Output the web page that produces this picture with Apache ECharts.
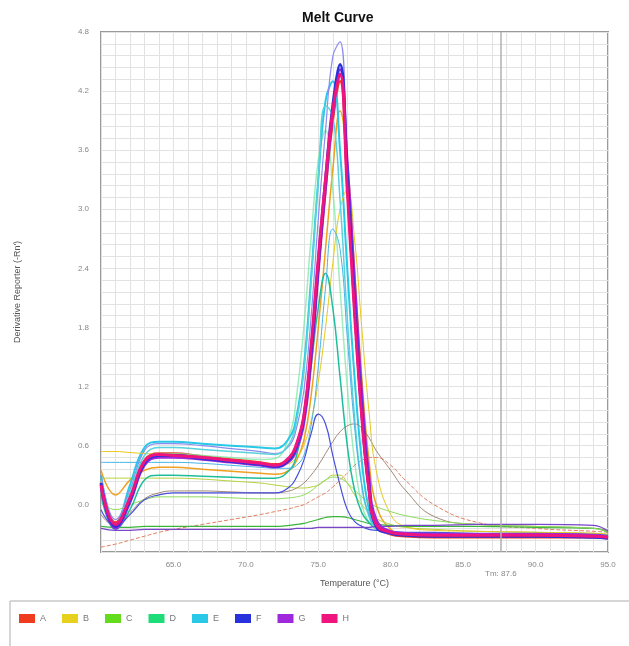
<!DOCTYPE html>
<html>
<head>
<meta charset="utf-8">
<script src="https://cdn.jsdelivr.net/npm/echarts@6/dist/echarts.min.js"></script>
<style>
  html, body { margin: 0; padding: 0; background: #fff; }
  #chart { width: 629px; height: 646px; }
</style>
</head>
<body>
<div id="chart"></div>
<script>
// temperature points (°C) shared by all wells
var temps = [60, 61, 62, 63, 64, 65, 67, 69, 71, 72, 73, 73.5, 74, 74.5, 75, 75.5, 76, 76.5, 77, 77.5, 78, 78.5, 79, 80, 81, 83, 86, 90, 94, 95];

// derivative reporter values per well
var wellH1 = [0.20,-0.20,0.07,0.44,0.51,0.50,0.48,0.45,0.42,0.40,0.48,0.62,0.90,1.60,2.50,3.30,4.00,4.37,3.20,1.95,0.90,0.15,-0.20,-0.28,-0.30,-0.31,-0.31,-0.31,-0.32,-0.33];
var wellF1 = [0.22,-0.22,0.05,0.42,0.50,0.50,0.47,0.44,0.41,0.39,0.46,0.60,0.88,1.55,2.45,3.30,4.05,4.47,3.35,2.05,0.95,0.18,-0.22,-0.29,-0.31,-0.32,-0.32,-0.32,-0.33,-0.34];
var wellG1 = [0.18,-0.24,0.02,0.40,0.48,0.48,0.46,0.43,0.40,0.38,0.44,0.56,0.82,1.45,2.35,3.20,3.95,4.42,3.50,2.30,1.15,0.30,-0.15,-0.27,-0.29,-0.30,-0.30,-0.30,-0.31,-0.33];
var wellA1 = [0.24,-0.18,0.08,0.45,0.52,0.52,0.49,0.46,0.43,0.41,0.47,0.60,0.86,1.50,2.40,3.20,3.90,4.30,3.25,2.00,0.92,0.16,-0.20,-0.30,-0.32,-0.33,-0.33,-0.33,-0.33,-0.34];
var wellF2 = [0.30,-0.15,0.15,0.55,0.62,0.62,0.60,0.57,0.54,0.52,0.60,0.78,1.15,1.90,2.90,3.80,4.55,4.70,3.40,2.00,0.85,0.10,-0.22,-0.30,-0.31,-0.32,-0.32,-0.32,-0.33,-0.34];
var wellE1 = [0.30,-0.20,0.20,0.58,0.64,0.64,0.62,0.60,0.58,0.57,0.68,0.90,1.40,2.30,3.30,4.10,4.30,3.60,2.40,1.30,0.45,-0.05,-0.22,-0.28,-0.30,-0.31,-0.31,-0.31,-0.32,-0.33];
var wellE2 = [0.25,-0.22,0.12,0.50,0.58,0.58,0.56,0.54,0.52,0.51,0.62,0.85,1.35,2.25,3.30,4.05,3.95,3.10,1.90,0.90,0.20,-0.12,-0.24,-0.29,-0.30,-0.31,-0.31,-0.31,-0.32,-0.33];
var wellD1 = [0.25,-0.20,0.10,0.45,0.52,0.52,0.50,0.48,0.46,0.47,0.70,1.10,1.80,2.70,3.50,3.80,3.20,2.20,1.20,0.45,0.00,-0.18,-0.25,-0.29,-0.30,-0.31,-0.31,-0.31,-0.32,-0.33];
var wellD2 = [0.10,-0.25,-0.05,0.25,0.30,0.30,0.29,0.28,0.27,0.27,0.35,0.50,0.85,1.40,2.00,2.35,2.00,1.30,0.60,0.15,-0.08,-0.18,-0.24,-0.27,-0.29,-0.30,-0.30,-0.30,-0.31,-0.32];
var wellF3 = [-0.05,-0.22,-0.10,0.05,0.10,0.12,0.12,0.12,0.12,0.12,0.18,0.28,0.45,0.72,0.92,0.82,0.50,0.20,-0.05,-0.17,-0.22,-0.25,-0.26,-0.27,-0.28,-0.28,-0.29,-0.29,-0.30,-0.31];
var wellB1 = [0.35,0.10,0.25,0.35,0.38,0.38,0.36,0.34,0.32,0.31,0.35,0.45,0.65,1.10,1.80,2.60,3.40,4.00,3.50,2.40,1.30,0.45,0.00,-0.25,-0.29,-0.30,-0.30,-0.30,-0.31,-0.32];
var wellB2 = [0.54,0.54,0.53,0.52,0.51,0.50,0.48,0.45,0.42,0.40,0.42,0.48,0.60,0.85,1.25,1.80,2.45,3.00,3.20,2.70,1.80,0.95,0.35,-0.10,-0.22,-0.26,-0.27,-0.28,-0.29,-0.30];
var wellC1 = [0.27,0.27,0.27,0.27,0.27,0.27,0.26,0.24,0.22,0.20,0.18,0.17,0.17,0.18,0.20,0.25,0.30,0.30,0.22,0.10,0.00,-0.08,-0.14,-0.20,-0.23,-0.25,-0.27,-0.28,-0.29,-0.30];
var wellE3 = [0.43,0.43,0.43,0.43,0.43,0.43,0.42,0.40,0.38,0.37,0.37,0.40,0.50,0.80,1.40,2.20,2.80,2.60,1.70,0.80,0.20,-0.10,-0.22,-0.27,-0.29,-0.30,-0.30,-0.31,-0.32,-0.33];
var wellG2 = [-0.10,-0.22,-0.08,0.06,0.12,0.14,0.14,0.13,0.12,0.12,0.14,0.17,0.22,0.30,0.40,0.52,0.64,0.74,0.80,0.82,0.78,0.68,0.55,0.35,0.15,-0.12,-0.20,-0.22,-0.24,-0.26];
var wellA2 = [-0.43,-0.40,-0.36,-0.32,-0.28,-0.25,-0.20,-0.15,-0.10,-0.07,-0.04,-0.02,0.00,0.04,0.08,0.12,0.18,0.25,0.32,0.40,0.45,0.48,0.48,0.40,0.25,0.00,-0.18,-0.24,-0.27,-0.28];
var wellC2 = [-0.22,-0.23,-0.23,-0.22,-0.22,-0.22,-0.22,-0.22,-0.22,-0.22,-0.21,-0.20,-0.19,-0.17,-0.15,-0.13,-0.12,-0.12,-0.13,-0.15,-0.17,-0.19,-0.20,-0.21,-0.22,-0.22,-0.22,-0.23,-0.24,-0.28];
var wellG3 = [-0.24,-0.26,-0.26,-0.25,-0.25,-0.25,-0.25,-0.25,-0.25,-0.25,-0.25,-0.24,-0.24,-0.24,-0.23,-0.23,-0.23,-0.23,-0.23,-0.23,-0.23,-0.23,-0.22,-0.22,-0.21,-0.21,-0.20,-0.20,-0.21,-0.27];
var wellC3 = [0.02,-0.05,0.00,0.05,0.08,0.08,0.08,0.07,0.06,0.06,0.07,0.08,0.10,0.14,0.20,0.25,0.28,0.27,0.22,0.15,0.08,0.02,-0.02,-0.07,-0.11,-0.16,-0.20,-0.22,-0.24,-0.28];

var groups = ['A', 'B', 'C', 'D', 'E', 'F', 'G', 'H'];
var groupColors = ['#f03c1e', '#e6d21e', '#64dc1e', '#1edc78', '#28c8e6', '#2832dc', '#a028dc', '#f0147f'];

var tmValue = 87.6;

// [group, data, colour, width, opacity, dashed]
var wells = [
    ['A', wellA1, '#f03c1e', 2.5, 1, false],
    ['B', wellB1, '#f0a020', 1.5, 1, false],
    ['C', wellC1, '#b4d23c', 1, 1, false],
    ['D', wellD1, '#78e6a0', 1.5, 0.7, false],
    ['E', wellE1, '#28c8e6', 2, 1, false],
    ['F', wellF2, '#8c8cf0', 1.2, 1, false],
    ['G', wellG2, '#a08878', 1, 1, false],
    ['A', wellA2, '#e08060', 1, 1, true],
    ['B', wellB2, '#e6c81e', 1, 1, false],
    ['C', wellC2, '#3cb43c', 1.2, 1, false],
    ['C', wellC3, '#8cdc5a', 1, 1, false],
    ['D', wellD2, '#1ebe9a', 1.5, 1, false],
    ['E', wellE2, '#5ad2dc', 1.5, 1, false],
    ['E', wellE3, '#46b4e6', 1, 1, false],
    ['F', wellF3, '#4650dc', 1.2, 1, false],
    ['G', wellG3, '#7846c8', 1.2, 1, false],
    ['G', wellG1, '#a028dc', 2.5, 1, false],
    ['F', wellF1, '#2832dc', 3, 1, false],
    ['H', wellH1, '#f0147f', 3, 1, false]
];

function pairs(ys) {
    var ret = [];
    for (var i = 0; i < temps.length; i++) {
        ret.push([temps[i], ys[i]]);
    }
    return ret;
}

var series = [];
// one empty series per group first so the legend gets the group colour
for (var g = 0; g < groups.length; g++) {
    series.push({
        name: groups[g],
        type: 'line',
        data: [],
        itemStyle: { color: groupColors[g] },
        lineStyle: { color: groupColors[g] },
        showSymbol: false
    });
}
for (var k = 0; k < wells.length; k++) {
    var w = wells[k];
    series.push({
        name: w[0],
        type: 'line',
        data: pairs(w[1]),
        smooth: 0.45,
        showSymbol: false,
        silent: true,
        itemStyle: { color: groupColors[groups.indexOf(w[0])] },
        lineStyle: { color: w[2], width: w[3], opacity: w[4], type: w[5] ? 'dashed' : 'solid' }
    });
}
// Tm threshold line
series.push({
    name: 'Tm',
    type: 'line',
    data: [],
    markLine: {
        symbol: 'none',
        silent: true,
        lineStyle: { color: '#b0b0b0', width: 1.5, type: 'solid' },
        label: {
            position: 'start',
            distance: 18,
            formatter: 'Tm: ' + tmValue.toFixed(1),
            color: '#888',
            fontSize: 8
        },
        data: [{ xAxis: tmValue }]
    }
});

var chart = echarts.init(document.getElementById('chart'));
chart.setOption({
    animation: false,
    backgroundColor: '#fff',
    title: {
        text: 'Melt Curve',
        left: 297,
        top: 6,
        textStyle: { fontFamily: 'Liberation Sans', fontSize: 14, fontWeight: 'bold', color: '#111' }
    },
    legend: {
        data: groups,
        left: 14,
        top: 609,
        icon: 'rect',
        itemWidth: 16,
        itemHeight: 9,
        itemGap: 16,
        textStyle: { fontSize: 9, color: '#777', fontFamily: 'Liberation Sans' }
    },
    grid: {
        show: true,
        left: 101,
        right: 21,
        top: 32,
        bottom: 94,
        borderColor: '#999',
        borderWidth: 2,
        backgroundColor: '#fff'
    },
    xAxis: {
        type: 'value',
        min: 60,
        max: 95,
        interval: 1,
        name: 'Temperature (°C)',
        nameLocation: 'middle',
        nameGap: 27,
        nameTextStyle: { fontSize: 9, color: '#555', fontFamily: 'Liberation Sans' },
        axisLine: { show: false },
        axisTick: { show: false },
        axisLabel: {
            fontSize: 8,
            color: '#888',
            margin: 9,
            formatter: function (v) {
                return (v % 5 === 0 && v > 60) ? v.toFixed(1) : '';
            }
        },
        splitLine: { show: true, lineStyle: { color: '#e2e2e2', width: 1 } }
    },
    yAxis: {
        type: 'value',
        min: -0.48,
        max: 4.8,
        interval: 0.12,
        name: "Derivative Reporter (-Rn')",
        nameLocation: 'middle',
        nameGap: 79,
        nameTextStyle: { fontSize: 9, color: '#555', fontFamily: 'Liberation Sans' },
        axisLine: { show: false },
        axisTick: { show: false },
        axisLabel: {
            fontSize: 8,
            color: '#888',
            margin: 12,
            formatter: function (v) {
                var r = Math.round(v / 0.12);
                return r % 5 === 0 ? v.toFixed(1) : '';
            }
        },
        splitLine: { show: true, lineStyle: { color: '#e2e2e2', width: 1 } }
    },
    graphic: [
        { type: 'line', shape: { x1: 10, y1: 601, x2: 629, y2: 601 }, style: { stroke: '#c8c8c8', lineWidth: 1.5 } },
        { type: 'line', shape: { x1: 10, y1: 601, x2: 10, y2: 646 }, style: { stroke: '#c8c8c8', lineWidth: 1.5 } }
    ],
    series: series
});
</script>
</body>
</html>
